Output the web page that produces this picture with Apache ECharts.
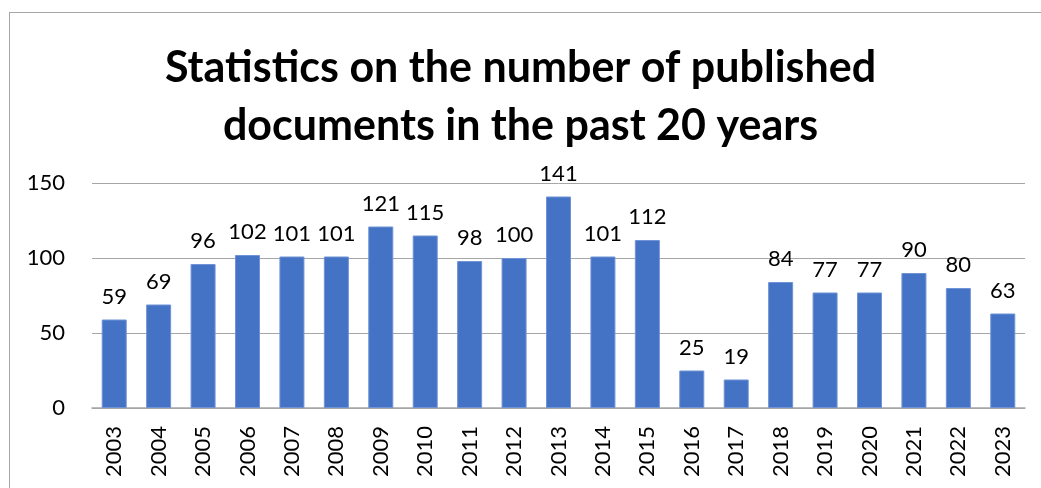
<!DOCTYPE html>
<html>
<head>
	<meta charset="utf-8">
	<script src="https://cdn.jsdelivr.net/npm/echarts@6/dist/echarts.min.js"></script>
	<style>
	   html, body{
	   	  margin:0;
	   	  padding:0;
	   	  background:#fff;
	   }
	   .div_frame{
	   	  position:absolute;
	   	  left:9px;
	   	  top:12px;
	   	  width:1100px;
	   	  height:600px;
	   	  border:1px solid #a6a6a6;
	   }
	   .div_chart{
	   	  position:absolute;
	   	  left:0;
	   	  top:0;
	   	  width:1041px;
	   	  height:488px;
	   }
	</style>
    <title>Published documents</title>
</head>
<body>
    <div class="div_frame"></div>
    <div id="chart" class="div_chart"></div>
    <script type="text/javascript">
        // 年份和发文数量
        var years = ['2003','2004','2005','2006','2007','2008','2009','2010','2011','2012','2013','2014','2015','2016','2017','2018','2019','2020','2021','2022','2023'];
        var counts = [59,69,96,102,101,101,121,115,98,100,141,101,112,25,19,84,77,77,90,80,63];
        var yTicks = [0, 50, 100, 150];

        var myChart = echarts.init(document.getElementById('chart'));

        var option = {
            backgroundColor: 'transparent',
            animation: false,
            title: {
                text: 'Statistics on the number of published\ndocuments in the past 20 years',
                left: 'center',
                top: 34,
                textStyle: {
                    fontFamily: 'Lato',
                    fontWeight: 'bold',
                    fontSize: 43,
                    lineHeight: 58,
                    color: '#000'
                }
            },
            grid: {
                left: 92,
                right: 16,
                top: 183,
                bottom: 80
            },
            xAxis: {
                type: 'category',
                data: years,
                axisTick: { show: false },
                axisLine: { lineStyle: { color: '#a6a6a6', width: 1.5 } },
                axisLabel: {
                    rotate: 90,
                    margin: 18,
                    fontFamily: 'Lato',
                    fontSize: 22,
                    color: '#000'
                }
            },
            yAxis: {
                type: 'value',
                min: yTicks[0],
                max: yTicks[yTicks.length - 1],
                interval: 50,
                axisLine: { show: false },
                axisTick: { show: false },
                splitLine: { lineStyle: { color: '#a6a6a6', width: 1 } },
                axisLabel: {
                    margin: 27,
                    fontFamily: 'Lato',
                    fontSize: 22,
                    color: '#000'
                }
            },
            series: [{
                type: 'bar',
                data: counts,
                barWidth: 25,
                itemStyle: {
                    color: '#4472c4',
                    borderColor: '#6f93d6',
                    borderWidth: 1
                },
                label: {
                    show: true,
                    position: 'top',
                    distance: 12,
                    fontFamily: 'Lato',
                    fontSize: 22,
                    color: '#000'
                }
            }]
        };

        myChart.setOption(option);
    </script>
</body>
</html>
